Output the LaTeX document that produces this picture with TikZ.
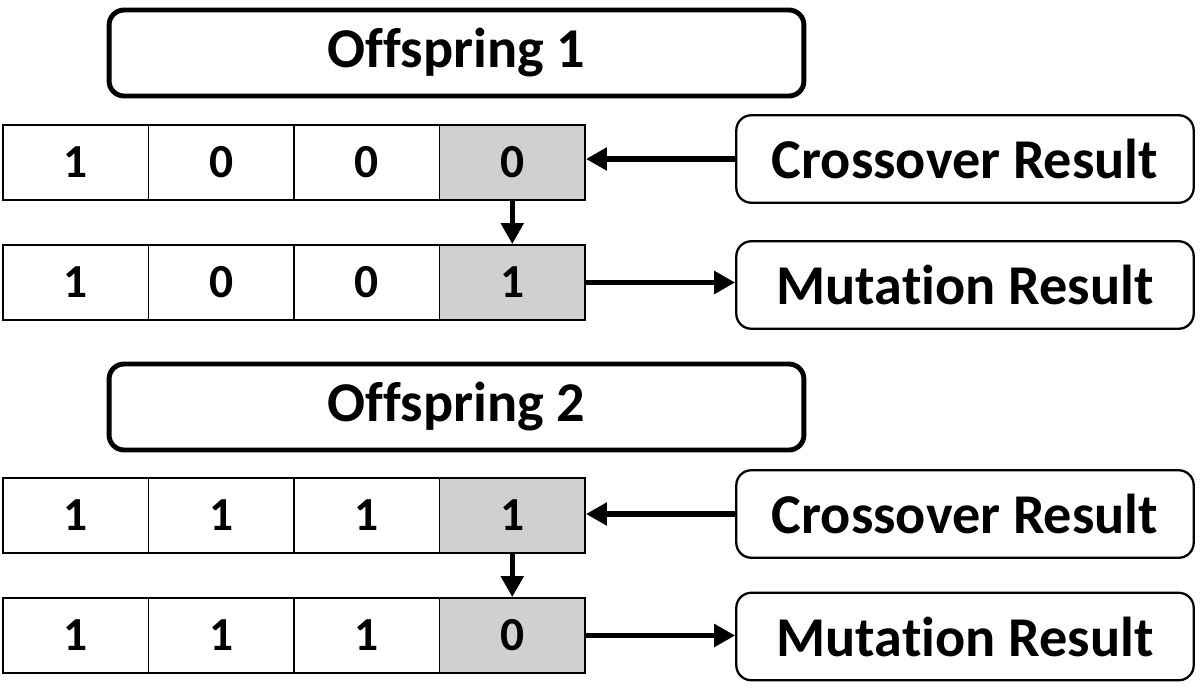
\documentclass[tikz,border=0pt]{standalone}
\usepackage{fontspec}
\setmainfont{Carlito}[Ligatures=NoCommon]
\usetikzlibrary{arrows.meta}
\definecolor{cellgray}{RGB}{208,208,208}
\tikzset{
  bitcell/.style={draw, line width=1.1pt, fill=white, minimum width=2.91cm, minimum height=1.5cm,
    inner sep=0pt, font=\bfseries\fontsize{27}{27}\selectfont},
  flipcell/.style={bitcell, fill=cellgray},
  titlebox/.style={draw, line width=2.8pt, rounded corners=0.3cm, minimum width=13.9cm,
    minimum height=1.72cm, font=\bfseries\fontsize{32}{32}\selectfont},
  resultbox/.style={draw, line width=1.3pt, rounded corners=0.3cm, minimum width=9.15cm,
    minimum height=1.75cm, font=\bfseries\fontsize{32}{32}\selectfont},
  flow/.style={line width=3pt, -{Triangle[length=0.42cm, width=0.44cm]}},
}
\begin{document}
\begin{tikzpicture}[x=0.02cm, y=-0.02cm]
  \useasboundingbox (0,0) rectangle (1200,687);

  % titles
  \node[titlebox] (off1) at (456.5,53) {Offspring 1};
  \node[titlebox] (off2) at (456.5,407) {Offspring 2};

  % bit strings
  \foreach \row/\ypos/\bits in {c1/162.5/{1,0,0,0}, m1/282.5/{1,0,0,1},
                                c2/515.5/{1,1,1,1}, m2/635.5/{1,1,1,0}} {
    \foreach \b [count=\i] in \bits {
      \ifnum\i=4
        \node[flipcell] (\row-\i) at ({75.75+145.5*(\i-1)},\ypos) {\b};
      \else
        \node[bitcell] (\row-\i) at ({75.75+145.5*(\i-1)},\ypos) {\b};
      \fi
    }
  }

  % results
  \node[resultbox] (cr1) at (965,159) {Crossover Result};
  \node[resultbox] (mr1) at (965,285) {Mutation Result};
  \node[resultbox] (cr2) at (965,514) {Crossover Result};
  \node[resultbox] (mr2) at (965,636.5) {Mutation Result};

  % arrows
  \draw[flow] (cr1.west) -- (cr1.west -| c1-4.east);
  \draw[flow] (c1-4.south) -- (m1-4.north);
  \draw[flow] (m1-4.east) -- (m1-4.east -| mr1.west);
  \draw[flow] (cr2.west) -- (cr2.west -| c2-4.east);
  \draw[flow] (c2-4.south) -- (m2-4.north);
  \draw[flow] (m2-4.east) -- (m2-4.east -| mr2.west);
\end{tikzpicture}
\end{document}
